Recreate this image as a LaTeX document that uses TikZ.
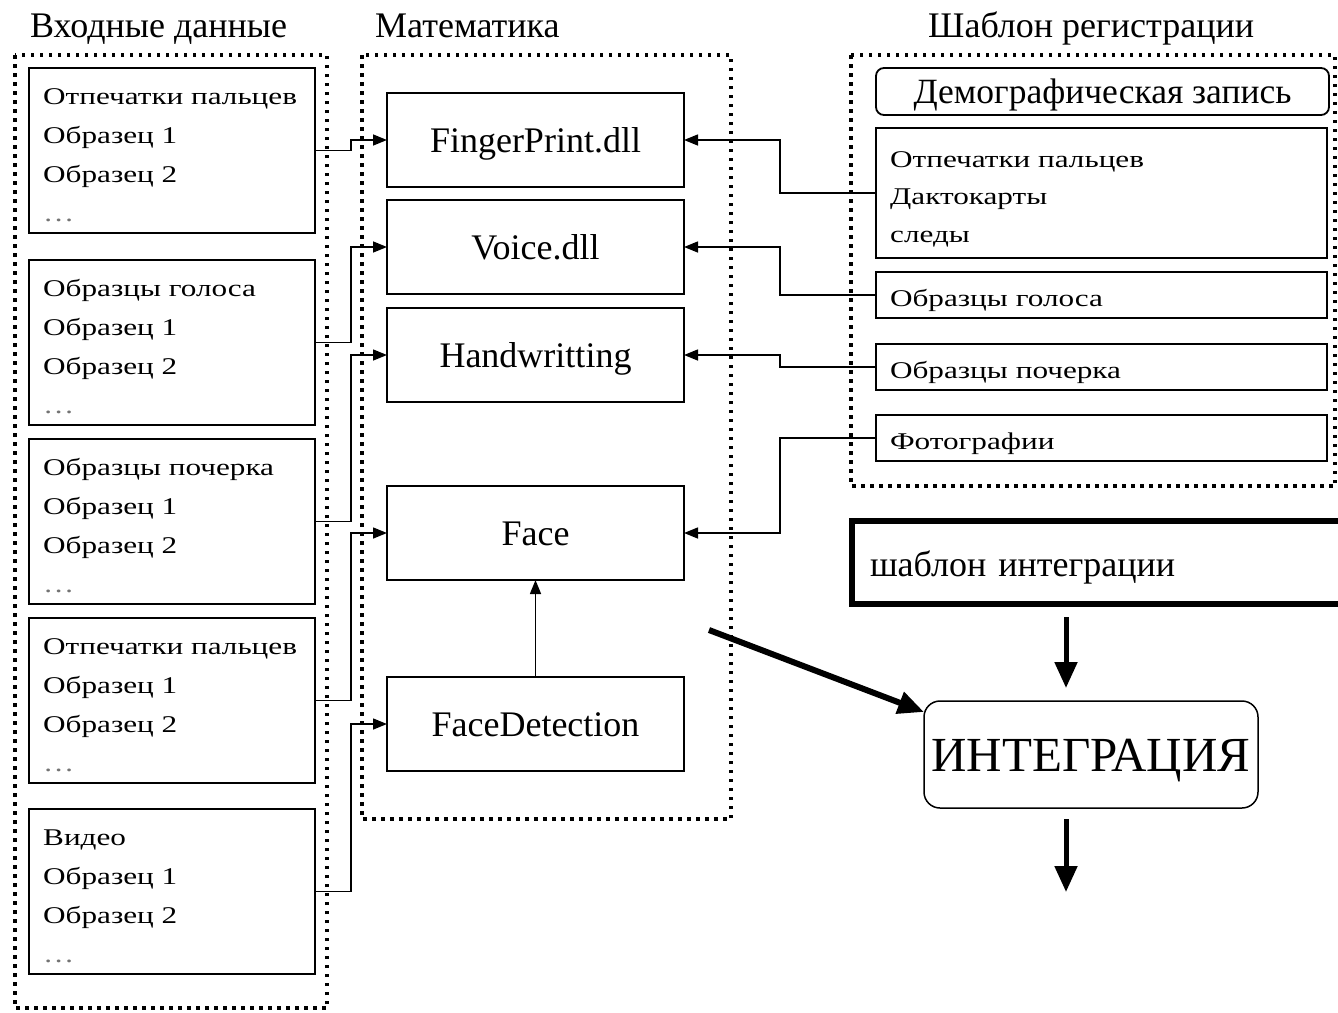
\documentclass[tikz,border=0pt]{standalone}
\usepackage{fontspec}
\setmainfont{Liberation Serif}
\newfontfamily\wideserif[FakeStretch=1.3]{Liberation Serif}
\usetikzlibrary{arrows.meta}
\newcommand\moredots{\textcolor{black!55}{\dots}}
\tikzset{
  frame/.style={line width=3.5pt, dash pattern=on 3.5pt off 5.5pt},
  box/.style={draw, line width=1.8pt, inner sep=0pt, outer sep=0pt, anchor=north west},
  head/.style={anchor=base west, inner sep=0pt, font=\fontsize{36}{40}\selectfont},
  % multi-line texts are placed by the baseline of their last line
  intext/.style={anchor=base west, inner sep=0pt, align=left, font=\wideserif\fontsize{24}{39}\selectfont},
  rtext/.style={anchor=base west, inner sep=0pt, align=left, font=\wideserif\fontsize{24}{37.5}\selectfont},
  inbox/.style={box, minimum width=286, minimum height=165},
  mbox/.style={box, minimum width=297, minimum height=94, text height=25, text depth=0pt,
    font=\fontsize{36}{40}\selectfont},
  rbox/.style={box, minimum width=451, minimum height=46, text width=423, inner xsep=14pt,
    align=left, text height=22, text depth=0pt, font=\wideserif\fontsize{24}{30}\selectfont},
  conn/.style={line width=1.5pt, -{Triangle[length=14pt,width=11pt]}},
  bigarrow/.style={line width=5pt, -{Triangle[length=26pt,width=22pt]}}
}
\begin{document}
\begin{tikzpicture}[x=1pt,y=-1pt]
\fill[white] (0,0) rectangle (1338,1012);
\useasboundingbox (0,0) rectangle (1338,1012);

% column titles
\node[head] (h1) at (30,37) {Входные данные};
\node[head] (h2) at (375,37) {Математика};
\node[head] (h3) at (928,37) {Шаблон регистрации};

% dotted group frames
\draw[frame] (15,55) rectangle (327,1008);
\draw[frame] (362,55) rectangle (731,819);
\draw[frame] (851,55) rectangle (1335,486);

% input data
\node[inbox] (in1) at (29,68) {};
\node[intext] (in1t) at (43,221) {Отпечатки пальцев\\Образец 1\\Образец 2\\\moredots};
\node[inbox] (in2) at (29,260) {};
\node[intext] (in2t) at (43,413) {Образцы голоса\\Образец 1\\Образец 2\\\moredots};
\node[inbox] (in3) at (29,439) {};
\node[intext] (in3t) at (43,592) {Образцы почерка\\Образец 1\\Образец 2\\\moredots};
\node[inbox] (in4) at (29,618) {};
\node[intext] (in4t) at (43,771) {Отпечатки пальцев\\Образец 1\\Образец 2\\\moredots};
\node[inbox] (in5) at (29,809) {};
\node[intext] (in5t) at (43,962) {Видео\\Образец 1\\Образец 2\\\moredots};

% processing modules
\node[mbox] (fp) at (387,93) {FingerPrint.dll};
\node[mbox] (voice) at (387,200) {Voice.dll};
\node[mbox] (hw) at (387,308) {Handwritting};
\node[mbox] (face) at (387,486) {Face};
\node[mbox] (fd) at (387,677) {FaceDetection};

% registration template
\node[box, rounded corners=8pt, minimum width=453, minimum height=47, text height=24, text depth=0pt,
  font=\fontsize{35.5}{40}\selectfont] (demo) at (876,68) {Демографическая запись};
\node[box, minimum width=451, minimum height=130] (rfp) at (876,128) {};
\node[rtext] (rfpt) at (890,242) {Отпечатки пальцев\\Дактокарты\\следы};
\node[rbox] (rvoice) at (876,272) {Образцы голоса};
\node[rbox] (rhw) at (876,344) {Образцы почерка};
\node[rbox] (rphoto) at (876,415) {Фотографии};

% integration
\node[box, line width=6pt, minimum width=492, minimum height=83, text width=456, inner xsep=18pt,
  align=left, text height=27, text depth=0pt, font=\fontsize{36}{40}\selectfont] (tmpl) at (852,521) {шаблон интеграции};
\node[box, rounded corners=16pt, line width=1.5pt, minimum width=334, minimum height=107,
  text height=34, text depth=0pt, font=\fontsize{49}{50}\selectfont] (integ) at (924,701) {ИНТЕГРАЦИЯ};

% inputs to modules
\draw[conn] (in1.east) -- ++(36,0) |- (fp.west);
\draw[conn] (in2.east) -- ++(36,0) |- (voice.west);
\draw[conn] (in3.east) -- ++(36,0) |- (hw.west);
\draw[conn] (in4.east) -- ++(36,0) |- (face.west);
\draw[conn] (in5.east) -- ++(36,0) |- (fd.west);

% template records to modules
\draw[conn] (rfp.west) -- ++(-96,0) |- (fp.east);
\draw[conn] (rvoice.west) -- ++(-96,0) |- (voice.east);
\draw[conn] (rhw.west) -- ++(-96,0) |- (hw.east);
\draw[conn] (rphoto.west) -- ++(-96,0) |- (face.east);
\draw[conn] (fd.north) -- (face.south);

% flow into and out of integration
\coordinate (col) at (1066,0);
\draw[bigarrow, shorten <=13pt, shorten >=13pt] (tmpl.south -| col) -- (integ.north -| col);
\coordinate (out) at (1066,892);
\draw[bigarrow, shorten <=11pt] (integ.south -| col) -- (out);
\coordinate (mathout) at (709,630);
\draw[bigarrow, line width=6pt] (mathout) -- ([yshift=-11pt]integ.north west);
\end{tikzpicture}
\end{document}
